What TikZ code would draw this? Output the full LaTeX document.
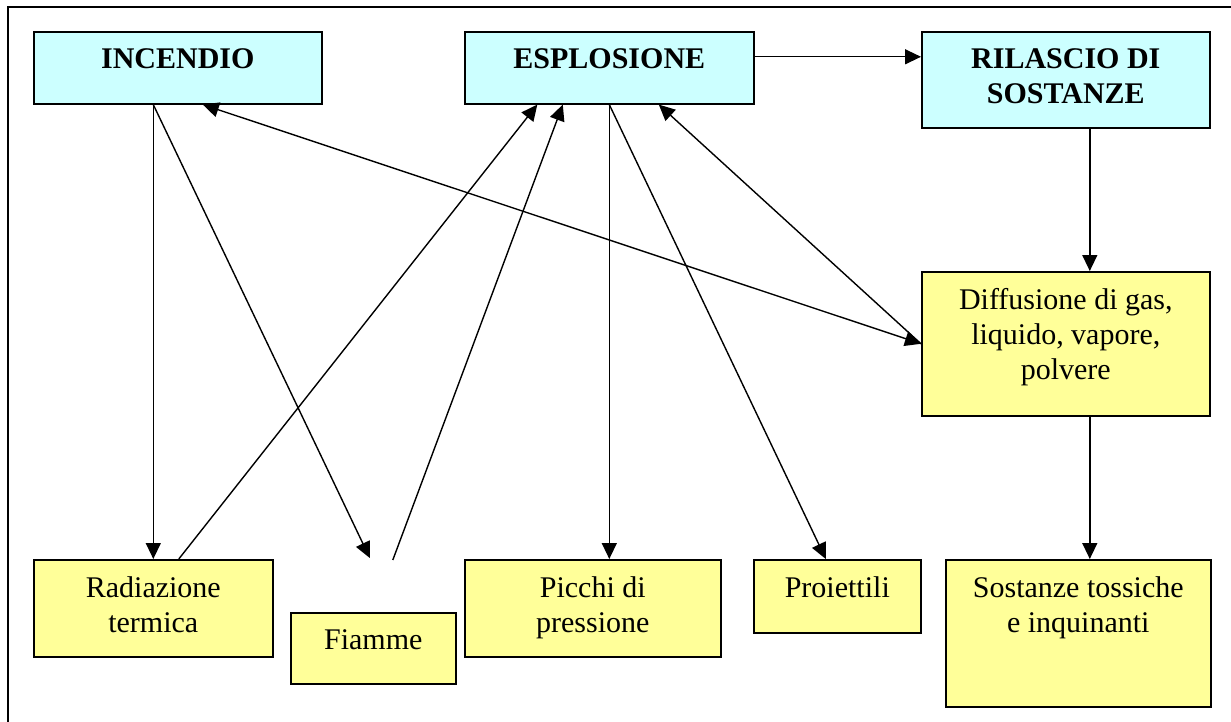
\documentclass[tikz,border=0pt]{standalone}
\usepackage{fontspec}
\setmainfont{Liberation Serif}
\usetikzlibrary{arrows.meta}

\definecolor{hotcyan}{RGB}{204,255,255}
\definecolor{warmyellow}{RGB}{255,255,153}

\begin{document}
\begin{tikzpicture}[x=0.5pt,y=-0.5pt,
    >={Triangle[length=8pt,width=7.5pt]},
    box/.style={draw,line width=0.8pt,inner sep=0pt,anchor=north west},
    hot/.style={box,fill=hotcyan},
    warm/.style={box,fill=warmyellow},
    txt/.style={anchor=north,inner sep=0pt,align=center,yshift=-8.6pt,
      font=\fontsize{15}{17.5}\selectfont},
    arr/.style={->,line width=0.7pt}]
      \useasboundingbox (0,0) rectangle (1231,722);
      \draw[line width=0.8pt] (8,722) -- (8,7) -- (1231,7);
      % top row
      \node[hot,minimum width=144pt,minimum height=36pt] (inc) at (33,31) {};
      \node[hot,minimum width=144.5pt,minimum height=36pt] (exp) at (464,31) {};
      \node[hot,minimum width=144pt,minimum height=48pt] (ril) at (921,31) {};
      \node[warm,minimum width=144pt,minimum height=72pt] (dif) at (921,271) {};
      % bottom row
      \node[warm,minimum width=119.5pt,minimum height=48.5pt] (rad) at (33,559) {};
      \node[warm,minimum width=82.5pt,minimum height=35.5pt] (fia) at (290,612) {};
      \node[warm,minimum width=128pt,minimum height=48.5pt] (pic) at (464,559) {};
      \node[warm,minimum width=83.5pt,minimum height=36.5pt] (pro) at (753,559) {};
      \node[warm,minimum width=132.5pt,minimum height=73.5pt] (sos) at (945,559) {};
      % texts
      \node[txt,font=\fontsize{15}{17.5}\selectfont\bfseries] (inc-t) at (inc.north) {INCENDIO};
      \node[txt,font=\fontsize{15}{17.5}\selectfont\bfseries] (exp-t) at (exp.north) {ESPLOSIONE};
      \node[txt,font=\fontsize{15}{17.5}\selectfont\bfseries] (ril-t) at (ril.north) {RILASCIO DI\\SOSTANZE};
      \node[txt] (dif-t) at (dif.north) {Diffusione di gas,\\liquido, vapore,\\polvere};
      \node[txt] (rad-t) at (rad.north) {Radiazione\\termica};
      \node[txt] (fia-t) at (fia.north) {Fiamme};
      \node[txt] (pic-t) at (pic.north) {Picchi di\\pressione};
      \node[txt] (pro-t) at (pro.north) {Proiettili};
      \node[txt] (sos-t) at (sos.north) {Sostanze tossiche\\e inquinanti};
      % free ends above Fiamme
      \coordinate (fia-in) at ([xshift=-1.75pt,yshift=27pt]fia.north);
      \coordinate (fia-out) at ([xshift=9.75pt,yshift=26pt]fia.north);
      % connectors
      \draw[arr] (rad.north |- inc.south) -- (rad.north);
      \draw[arr] (rad.north |- inc.south) -- (fia-in);
      \draw[arr] ([xshift=12.75pt]rad.north) -- ([xshift=-36pt]exp.south);
      \draw[arr] (fia-out) -- ([xshift=-23.25pt]exp.south);
      \draw[arr] (exp.south) -- (exp.south |- pic.north);
      \draw[arr] (exp.south) -- ([xshift=-5.75pt]pro.north);
      \draw[arr,<->] ([xshift=12.5pt]inc.south) -- (dif.west);
      \draw[arr] (dif.west) -- ([xshift=24.75pt]exp.south);
      \draw[arr] ([yshift=5.5pt]exp.east) -- ([yshift=5.5pt]exp.east -| ril.west);
      \draw[arr] ([xshift=12pt]ril.south) -- ([xshift=12pt]dif.north);
      \draw[arr] ([xshift=12pt]dif.south) -- ([xshift=12pt]dif.south |- sos.north);
\end{tikzpicture}
\end{document}
